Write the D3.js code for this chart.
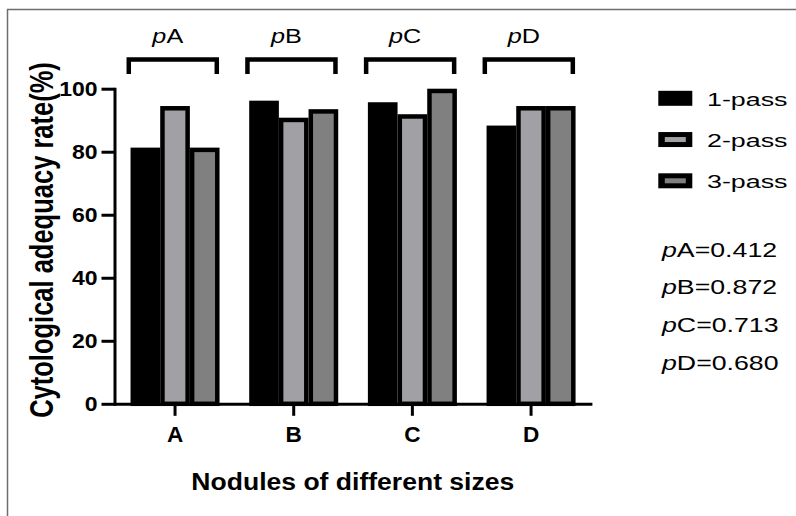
<!DOCTYPE html>
<html>
<head>
<meta charset="utf-8">
<script src="https://cdn.jsdelivr.net/npm/d3@7"></script>
<style>
  html, body { margin: 0; padding: 0; background: #fff; }
  svg { display: block; }
  text { font-family: "Liberation Sans", Arial, sans-serif; fill: #000; }
</style>
</head>
<body>
<svg id="chart" width="796" height="516"></svg>
<script>
// ---- data ----
const categories = ["A", "B", "C", "D"];
const series = ["1-pass", "2-pass", "3-pass"];
const pass1 = [81.3, 96.2, 95.7, 88.3];
const pass2 = [94.5, 90.8, 91.9, 94.5];
const pass3 = [81.3, 93.5, 100, 94.5];
const yTicks = [0, 20, 40, 60, 80, 100];
const pGroups = ["A", "B", "C", "D"];
const pValues = ["0.412", "0.872", "0.713", "0.680"];
const seriesColors = ["#000000", "#a1a1a5", "#808080"];
const yTitle = "Cytological adequacy rate(%)";
const xTitle = "Nodules of different sizes";

const values = [pass1, pass2, pass3];

// ---- layout ----
const svg = d3.select("#chart");
const x = d3.scaleBand().domain(categories).range([115.7, 590.4]).paddingInner(0.25).paddingOuter(0.125);
const xs = d3.scaleBand().domain(series).range([0, x.bandwidth()]).padding(0);
const y = d3.scaleLinear().domain([0, 100]).range([403.8, 88.7]);
const border = 4.5;

// frame (partial border of original figure)
svg.append("path").attr("d", "M7.5,516V9.5H796").attr("fill", "none")
  .attr("stroke", "#6e6e6e").attr("stroke-width", 1.5);

// bars
const rows = [];
categories.forEach((c, i) => series.forEach((s, j) => rows.push({ c, s, j, v: values[j][i] })));
svg.append("g").selectAll("rect").data(rows).join("rect")
  .attr("x", d => x(d.c) + xs(d.s) + border / 2)
  .attr("width", xs.bandwidth() - border)
  .attr("y", d => y(d.v) + border / 2)
  .attr("height", d => y(0) - y(d.v) - border / 2)
  .attr("fill", d => seriesColors[d.j])
  .attr("stroke", "#000")
  .attr("stroke-width", border);

// y axis
const yAxis = svg.append("g").attr("transform", "translate(114.5,0)")
  .call(d3.axisLeft(y).tickValues(yTicks).tickSize(13).tickSizeOuter(0));
yAxis.selectAll("path, line").attr("stroke", "#000").attr("stroke-width", 3);
yAxis.select(".domain").attr("stroke-linecap", "square");
yAxis.selectAll("text")
  .attr("x", 0).attr("dy", null).attr("y", 0)
  .attr("transform", "translate(-17,7) scale(1.18,1)")
  .style("font-size", "19.5px").style("font-weight", "bold").attr("fill", "#000")
  .attr("text-anchor", "end");

// x axis
const xAxis = svg.append("g").attr("transform", `translate(0,${y(0)})`)
  .call(d3.axisBottom(x).tickSize(12).tickSizeOuter(0));
xAxis.selectAll("path, line").attr("stroke", "#000").attr("stroke-width", 3);
xAxis.select(".domain").attr("stroke-linecap", "square");
xAxis.selectAll("text")
  .attr("y", 0).attr("dy", null)
  .attr("transform", "translate(0,38.5) scale(1.05,1)")
  .style("font-size", "21.5px").style("font-weight", "bold").attr("fill", "#000");

// brackets over each group
const bTop = 59.5, bBottom = 74;
const bracket = svg.append("g");
categories.forEach((c, i) => {
  const l = x(c) - 4 + border / 2, r = x(c) + x.bandwidth() - 0.5 - border / 2;
  bracket.append("path")
    .attr("d", `M${l},${bBottom}V${bTop}H${r}V${bBottom}`)
    .attr("fill", "none").attr("stroke", "#000").attr("stroke-width", border)
    .attr("stroke-linejoin", "miter");
  const t = bracket.append("text")
    .attr("transform", `translate(${(l + r) / 2 - 5},43.3) scale(1.2,1)`)
    .attr("text-anchor", "middle").style("font-size", "21px");
  t.append("tspan").style("font-style", "italic").text("p");
  t.append("tspan").text(pGroups[i]);
});

// axis titles
svg.append("text")
  .attr("transform", "translate(52.9,240) scale(1.32,1) rotate(-90)")
  .attr("text-anchor", "middle").style("font-size", "25.5px").style("font-weight", "bold")
  .text(yTitle);
svg.append("text")
  .attr("transform", "translate(352.8,490) scale(1.12,1)")
  .attr("text-anchor", "middle").style("font-size", "23.7px").style("font-weight", "bold")
  .text(xTitle);

// legend
const ly = d3.scalePoint().domain(series).range([98.3, 180.8]);
const legend = svg.append("g");
series.forEach((s, j) => {
  const cy = ly(s);
  legend.append("rect").attr("x", 658.3).attr("y", cy - 7.5).attr("width", 34).attr("height", 15).attr("fill", "#000");
  if (j > 0) {
    legend.append("rect").attr("x", 658.3 + 6.5).attr("y", cy - 7.5 + 5)
      .attr("width", 34 - 13).attr("height", 15 - 10).attr("fill", seriesColors[j]);
  }
  legend.append("text")
    .attr("transform", `translate(707,${cy + 7.4}) scale(1.45,1)`)
    .style("font-size", "18.5px").attr("fill", "#111").text(s);
});

// p-values
const py = d3.scalePoint().domain(pGroups).range([256.6, 370]);
pGroups.forEach((g, i) => {
  const t = svg.append("text")
    .attr("transform", `translate(662,${py(g)}) scale(1.37,1)`)
    .style("font-size", "19.5px").attr("fill", "#111");
  t.append("tspan").style("font-style", "italic").text("p");
  t.append("tspan").text(`${g}=${pValues[i]}`);
});
</script>
</body>
</html>
